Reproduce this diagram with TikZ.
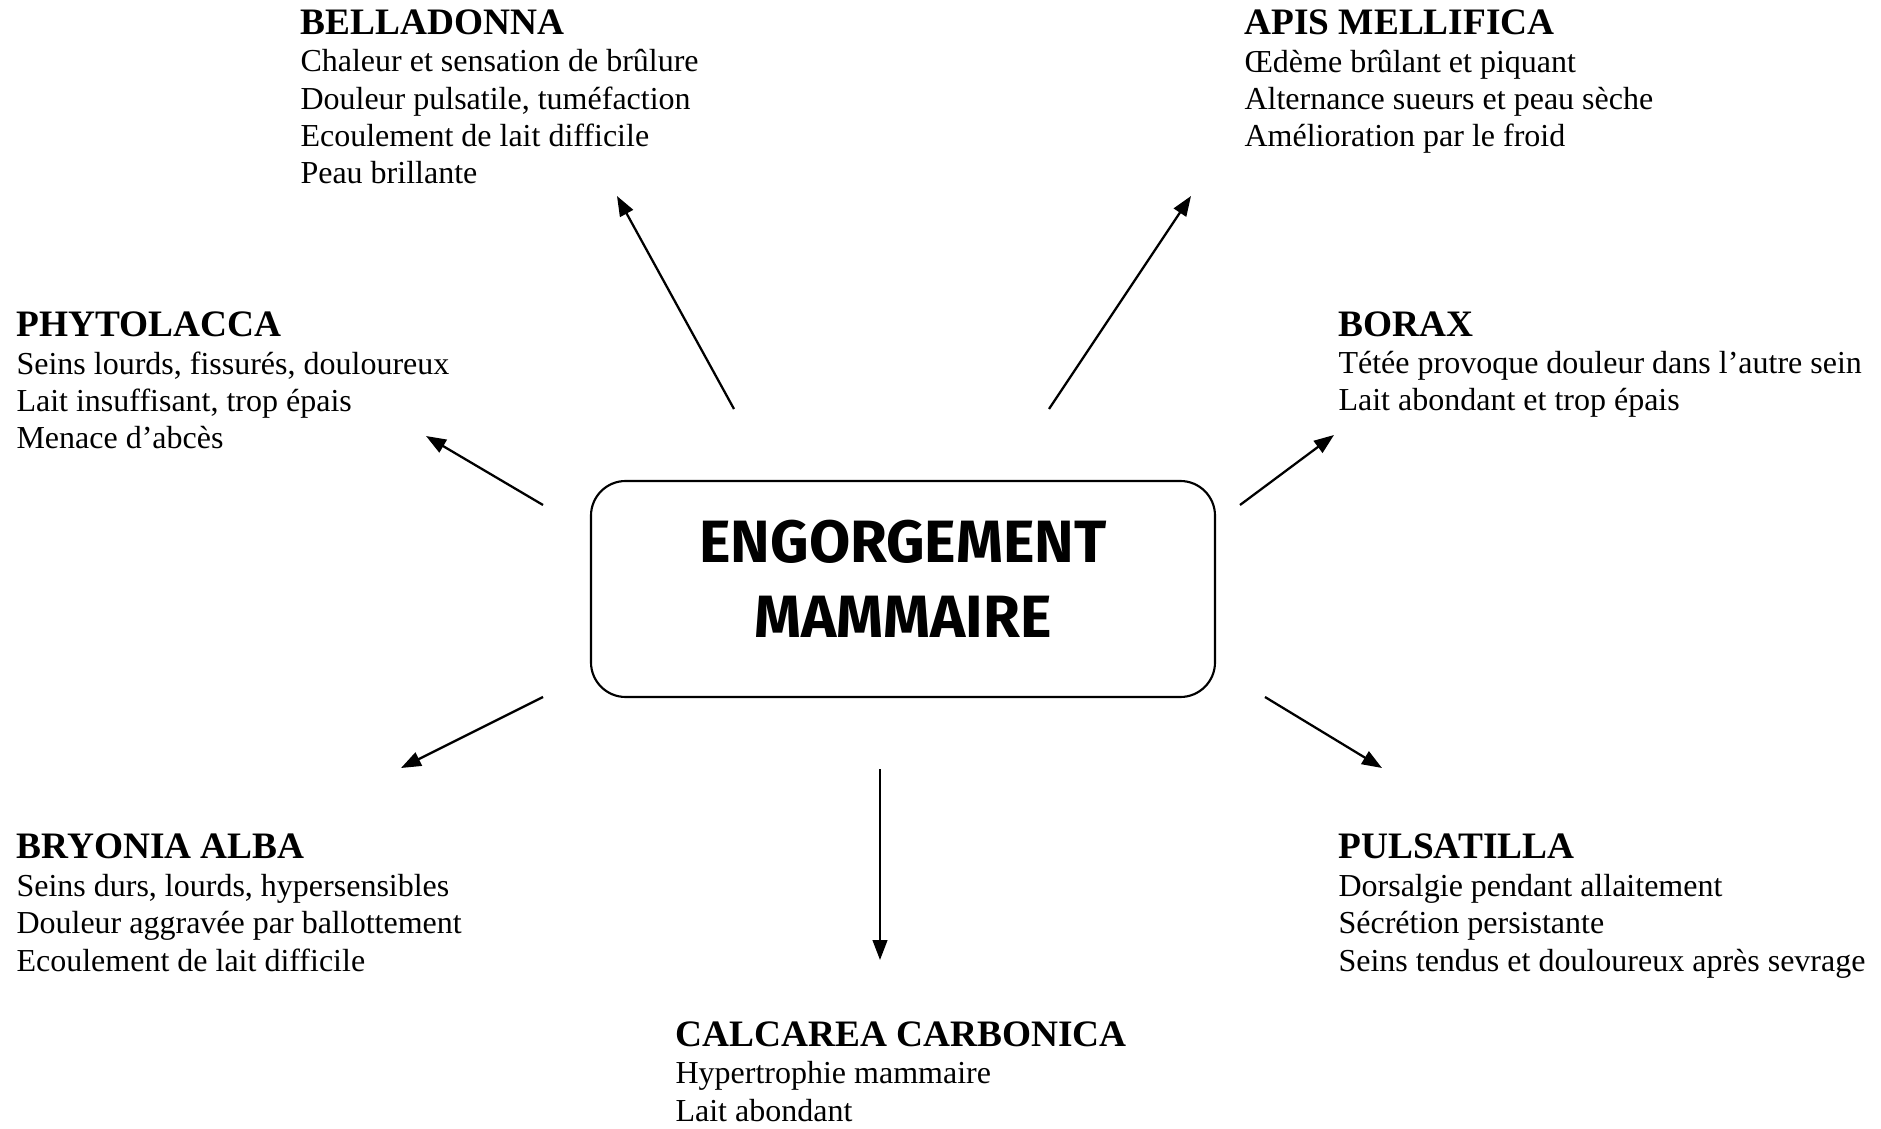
\documentclass[tikz,border=0pt]{standalone}
\usepackage{fontspec}
\setmainfont{Liberation Serif}
\newfontfamily\boxfont{Fira Sans}
\usetikzlibrary{arrows.meta}

\newcommand{\remedyname}[1]{{\bfseries\fontsize{14}{14.06}\selectfont #1}}

\begin{document}
\begin{tikzpicture}[x=0.375pt, y=-0.375pt,
    remedy/.style={anchor=base west, align=left, inner sep=0pt, font=\fontsize{12}{14.06}\selectfont},
    arrow/.style={line width=0.85pt, -{Triangle[length=7.5pt, width=5.5pt]}}]

    \useasboundingbox (0, 0) rectangle (1881, 1129);

    \node[draw, line width=0.8pt, rounded corners=13pt, minimum width=234pt, minimum height=81pt, align=center, text depth=7.5pt,
        font=\boxfont\bfseries\fontsize{22.4}{28.1}\selectfont] (engorgement) at (903, 589) {ENGORGEMENT\\MAMMAIRE};

    % nodes placed at the baseline of their last line
    \node[remedy] (belladonna) at (300, 184) {\remedyname{BELLADONNA}\\Chaleur et sensation de brûlure\\Douleur pulsatile, tuméfaction\\Ecoulement de lait difficile\\Peau brillante};
    \node[remedy] (apis) at (1244, 147) {\remedyname{APIS MELLIFICA}\\Œdème brûlant et piquant\\Alternance sueurs et peau sèche\\Amélioration par le froid};
    \node[remedy] (phytolacca) at (16, 449) {\remedyname{PHYTOLACCA}\\Seins lourds, fissurés, douloureux\\Lait insuffisant, trop épais\\Menace d’abcès};
    \node[remedy] (borax) at (1338, 411) {\remedyname{BORAX}\\Tétée provoque douleur dans l’autre sein\\Lait abondant et trop épais};
    \node[remedy] (bryonia) at (16, 971) {\remedyname{BRYONIA ALBA}\\Seins durs, lourds, hypersensibles\\Douleur aggravée par ballottement\\Ecoulement de lait difficile};
    \node[remedy] (pulsatilla) at (1338, 971) {\remedyname{PULSATILLA}\\Dorsalgie pendant allaitement\\Sécrétion persistante\\Seins tendus et douloureux après sevrage};
    \node[remedy] (calcarea) at (675, 1121) {\remedyname{CALCAREA CARBONICA}\\Hypertrophie mammaire\\Lait abondant};

    \coordinate (bel-a) at (734, 409);  \coordinate (bel-b) at (617, 196);
    \coordinate (api-a) at (1049, 409); \coordinate (api-b) at (1191, 196);
    \coordinate (phy-a) at (543, 505);  \coordinate (phy-b) at (426, 436);
    \coordinate (bor-a) at (1240, 505); \coordinate (bor-b) at (1334, 435);
    \coordinate (bry-a) at (543, 697);  \coordinate (bry-b) at (401, 768);
    \coordinate (pul-a) at (1265, 697); \coordinate (pul-b) at (1382, 768);
    \coordinate (cal-a) at (880, 769);  \coordinate (cal-b) at (880, 960);

    \foreach \r in {bel, api, phy, bor, bry, pul, cal}
        \draw[arrow] (\r-a) -- (\r-b);

\end{tikzpicture}
\end{document}
